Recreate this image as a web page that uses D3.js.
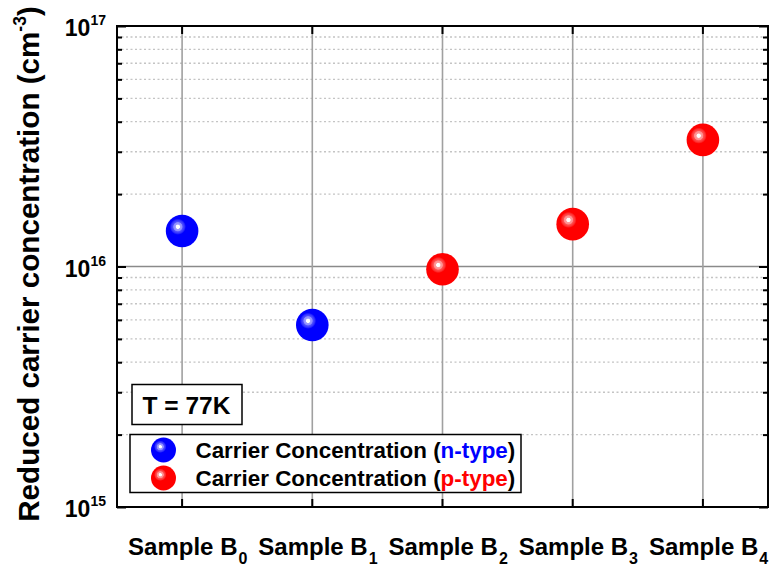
<!DOCTYPE html>
<html><head><meta charset="utf-8">
<script src="https://cdn.jsdelivr.net/npm/d3@7"></script>
<style>
body{margin:0;background:#fff}
text{font-family:"Liberation Sans",Arial,Helvetica,sans-serif;font-weight:bold}
</style>
</head><body>
<svg id="c" width="771" height="567"></svg>
<script>
// ---- data ----
const categories = ["0", "1", "2", "3", "4"];          // subscript of "Sample B"
const sampleLabel = "Sample B";
const values = [1.405e16, 5.71e15, 9.74e15, 1.50e16, 3.36e16];
const types = ["n", "n", "p", "p", "p"];
const yTickExps = [15, 16, 17];
const legendItems = [
  {type: "n", pre: "Carrier Concentration (", mid: "n-type", post: ")"},
  {type: "p", pre: "Carrier Concentration (", mid: "p-type", post: ")"}
];
const tempLabel = "T = 77K";
const colors = {n: "#0000ff", p: "#ff0000"};

// ---- layout ----
const L = 117, R = 768, T = 26, B = 507;
const svg = d3.select("#c");
const x = d3.scaleBand().domain(categories).range([L, R]).paddingInner(0).paddingOuter(0);
const cx = c => x(c) + x.bandwidth() / 2;
const y = d3.scaleLog().domain([1e15, 1e17]).range([B, T]);

const allTicks = y.ticks();
const majors = allTicks.filter(v => Math.abs(Math.log10(v) - Math.round(Math.log10(v))) < 1e-9);
const minors = allTicks.filter(v => !majors.includes(v));

// gradient for highlight
const defs = svg.append("defs");
const hg = defs.append("radialGradient").attr("id", "hl");
[[0, 1], [0.22, 1], [0.3, 0.62], [0.52, 0.55], [0.6, 0.32], [0.8, 0.2], [1, 0]].forEach(([o, a]) =>
  hg.append("stop").attr("offset", o).attr("stop-color", "#fff").attr("stop-opacity", a));

// ---- grid ----
const g = svg.append("g");
g.selectAll("line.minor").data(minors).join("line")
  .attr("x1", L).attr("x2", R).attr("y1", d => y(d)).attr("y2", d => y(d))
  .attr("stroke", "#c4c4c4").attr("stroke-width", 1.3).attr("stroke-dasharray", "2,2.5");
g.selectAll("line.major").data(majors.filter(v => v > 1e15 && v < 1e17)).join("line")
  .attr("x1", L).attr("x2", R).attr("y1", d => y(d)).attr("y2", d => y(d))
  .attr("stroke", "#8a8a8a").attr("stroke-width", 1.6);
g.selectAll("line.vert").data(categories).join("line")
  .attr("x1", d => cx(d)).attr("x2", d => cx(d)).attr("y1", T).attr("y2", B)
  .attr("stroke", "#a0a0a0").attr("stroke-width", 1.6);

// ---- axes (inward ticks) ----
function styleAxis(sel) {
  sel.select(".domain").remove();
  sel.selectAll(".tick line").attr("stroke", "#000").attr("stroke-width", 2);
  sel.selectAll(".tick text").remove();
}
svg.append("g").attr("transform", `translate(${L},0)`)
  .call(d3.axisLeft(y).tickValues(minors).tickSize(-5)).call(styleAxis);
svg.append("g").attr("transform", `translate(${L},0)`)
  .call(d3.axisLeft(y).tickValues(majors).tickSize(-9)).call(styleAxis);
svg.append("g").attr("transform", `translate(${R},0)`)
  .call(d3.axisRight(y).tickValues(minors).tickSize(-5)).call(styleAxis);
svg.append("g").attr("transform", `translate(${R},0)`)
  .call(d3.axisRight(y).tickValues(majors).tickSize(-9)).call(styleAxis);
svg.append("g").attr("transform", `translate(0,${T})`)
  .call(d3.axisTop(x).tickSize(-8)).call(styleAxis);
svg.append("g").attr("transform", `translate(0,${B})`)
  .call(d3.axisBottom(x).tickSize(-8)).call(styleAxis);

// frame
svg.append("rect").attr("x", L).attr("y", T).attr("width", R - L).attr("height", B - T)
  .attr("fill", "none").attr("stroke", "#000").attr("stroke-width", 2);

// y tick labels
const yl = svg.append("g").selectAll("text").data(yTickExps).join("text")
  .attr("x", 106).attr("y", d => y(Math.pow(10, d)) + 10)
  .attr("text-anchor", "end").attr("font-size", 23);
yl.append("tspan").text("10");
yl.append("tspan").attr("font-size", 14).attr("dy", -11).text(d => d);

// x labels
const xl = svg.append("g").selectAll("text").data(categories).join("text")
  .attr("x", d => cx(d) - 54).attr("y", 555).attr("font-size", 24);
xl.append("tspan").text(sampleLabel);
xl.append("tspan").attr("font-size", 16).attr("dx", 1).attr("dy", 9).text(d => d);

// y title
const yt = svg.append("text").attr("transform", `translate(39,264) rotate(-90)`)
  .attr("text-anchor", "middle").attr("font-size", 29.6);
yt.append("tspan").text("Reduced carrier concentration (cm");
yt.append("tspan").attr("font-size", 17.5).attr("dy", -13).text("-3");
yt.append("tspan").attr("dy", 13).text(")");

// ---- markers ----
function sphere(sel, r) {
  sel.append("circle").attr("r", r).attr("fill", d => colors[d.type]);
  sel.append("circle").attr("cx", -r * 0.26).attr("cy", -r * 0.26).attr("r", r * 0.5)
    .attr("fill", "url(#hl)");
}
const pts = categories.map((c, i) => ({c, v: values[i], type: types[i]}));
svg.append("g").selectAll("g").data(pts).join("g")
  .attr("transform", d => `translate(${cx(d.c)},${y(d.v)})`)
  .call(sphere, 16.3);

// ---- T label ----
svg.append("rect").attr("x", 132).attr("y", 384.5).attr("width", 110).attr("height", 40)
  .attr("fill", "#fff").attr("stroke", "#000").attr("stroke-width", 1.5);
svg.append("text").attr("x", 142.5).attr("y", 414).attr("font-size", 24.5).text(tempLabel);

// ---- legend ----
svg.append("rect").attr("x", 130).attr("y", 434.5).attr("width", 391).attr("height", 58)
  .attr("fill", "#fff").attr("stroke", "#000").attr("stroke-width", 1.5);
const li = svg.append("g").selectAll("g").data(legendItems).join("g")
  .attr("transform", (d, i) => `translate(163.5,${450 + i * 28})`);
li.append("g").datum(d => d).call(sphere, 12.5);
const lt = li.append("text").attr("x", 32).attr("y", 7.5).attr("font-size", 22.4);
lt.append("tspan").text(d => d.pre);
lt.append("tspan").attr("fill", d => colors[d.type]).text(d => d.mid);
lt.append("tspan").text(d => d.post);
</script>
</body></html>
